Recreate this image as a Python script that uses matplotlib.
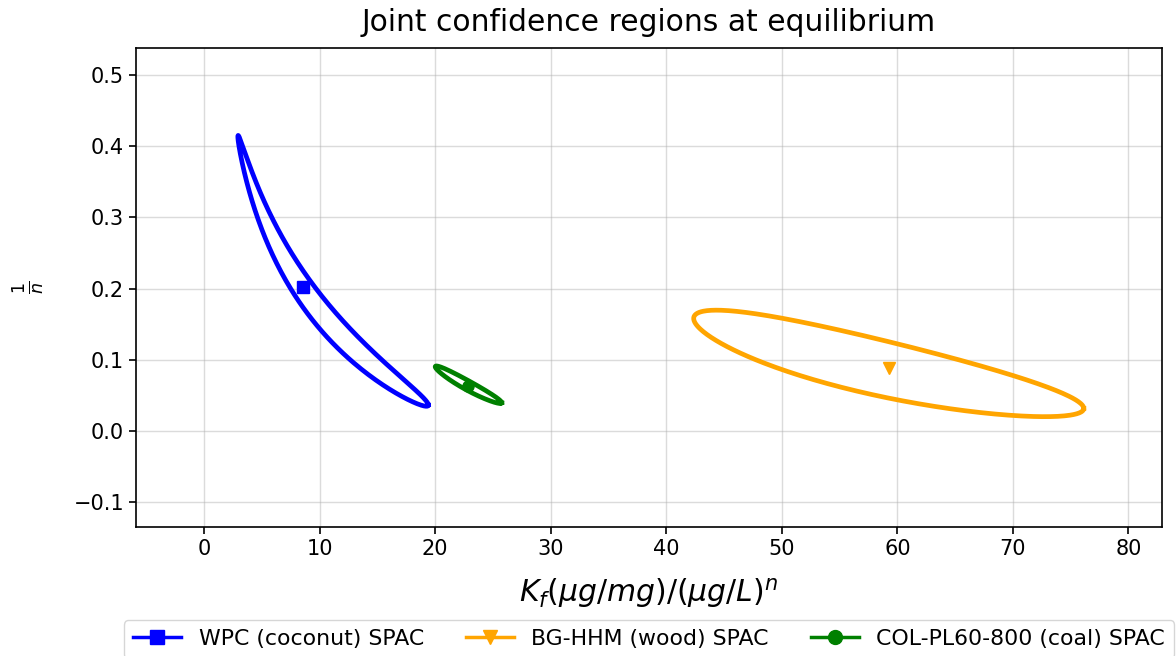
import matplotlib
matplotlib.use("Agg")
import matplotlib.pyplot as plt
from matplotlib.lines import Line2D
import numpy as np

# Freundlich fits for the three carbons
materials = ["WPC (coconut) SPAC", "BG-HHM (wood) SPAC", "COL-PL60-800 (coal) SPAC"]
colors = ["blue", "orange", "green"]
markers = ["s", "v", "o"]

# best-fit estimates
kf_est = [8.54, 59.25, 22.83]
inv_n_est = [0.2017, 0.088, 0.0632]

# joint confidence regions, defined in (ln Kf, 1/n) space
region_kf_center = [7.53, 56.8, 22.7]
region_inv_n_center = [0.2248, 0.0949, 0.065]
var_ln_kf = [0.8968, 0.08585, 0.016002]
cov_ln_kf_inv_n = [-0.17827, -0.018488, -0.0032005]
var_inv_n = [0.036114, 0.005582, 0.0006934]

fig = plt.figure(figsize=(11.76, 6.56), dpi=100)
ax = fig.add_axes([0.1156, 0.1966, 0.8724, 0.7302])

theta = np.linspace(0, 2 * np.pi, 400)
circle = np.vstack([np.cos(theta), np.sin(theta)])

handles = []
for i, name in enumerate(materials):
    cov = np.array([[var_ln_kf[i], cov_ln_kf_inv_n[i]],
                    [cov_ln_kf_inv_n[i], var_inv_n[i]]])
    L = np.linalg.cholesky(cov)
    pts = L @ circle
    ln_kf = np.log(region_kf_center[i]) + pts[0]
    inv_n = region_inv_n_center[i] + pts[1]
    ax.plot(np.exp(ln_kf), inv_n, color=colors[i], lw=3.4)
    ax.plot(kf_est[i], inv_n_est[i], marker=markers[i], color=colors[i],
            ms=8, linestyle="none")
    handles.append(Line2D([], [], color=colors[i], marker=markers[i],
                          ms=10, lw=2.5, label=name))

ax.set_xlim(-5.9, 82.9)
ax.set_ylim(-0.1347, 0.5375)
ax.set_xticks(np.arange(0, 81, 10))
ax.set_yticks(np.arange(-0.1, 0.51, 0.1))
ax.tick_params(labelsize=15, width=1.2, length=5)
for sp in ax.spines.values():
    sp.set_linewidth(1.2)
ax.grid(True, alpha=0.45, lw=1.0)

ax.set_title("Joint confidence regions at equilibrium", fontsize=21.4, pad=12)
ax.set_xlabel(r"$K_f(\mu g/mg)/(\mu g/L)^n$", fontsize=21.5, labelpad=12)
ax.set_ylabel(r"$\frac{1}{n}$", fontsize=18, labelpad=19)

ax.legend(handles=handles, loc="upper center", bbox_to_anchor=(0.5, -0.172),
          ncol=3, fontsize=15.8, handlelength=2.2, columnspacing=1.9)

fig.savefig("out.png", dpi=100)
